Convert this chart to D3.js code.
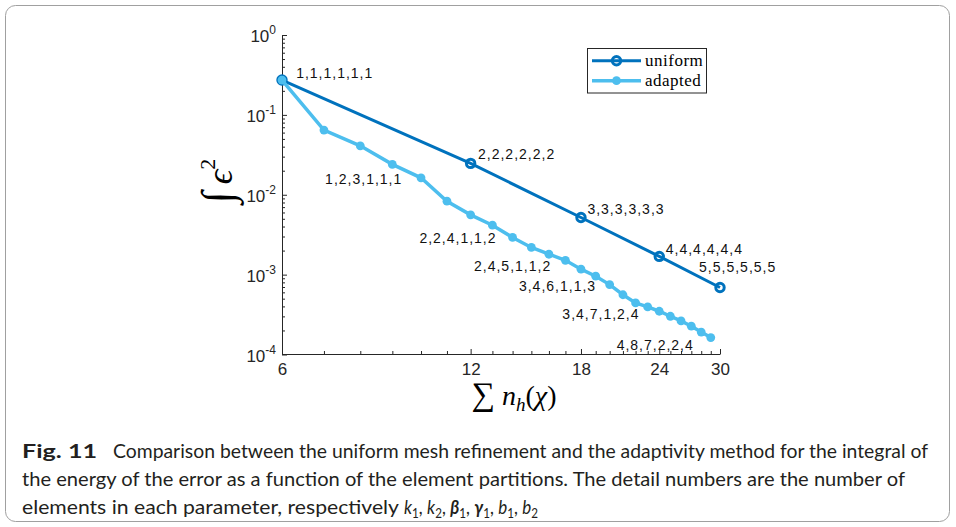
<!DOCTYPE html>
<html><head><meta charset="utf-8">
<script src="https://cdn.jsdelivr.net/npm/d3@7"></script>
<style>body{margin:0;background:#fff}</style>
</head><body><svg id="c" width="956" height="527"></svg>
<script>
// ---------- data ----------
const uniformX = [6, 12, 18, 24, 30];
const uniformY = [0.273, 0.0247, 0.00519, 0.00169, 0.00069];
const adaptedX = [6,7,8,9,10,11,12,13,14,15,16,17,18,19,20,21,22,23,24,25,26,27,28,29];
const adaptedY = [0.273,0.0645,0.041,0.024,0.0163,0.0083,0.0056,0.00416,0.00292,0.00219,0.0018,0.00151,0.00117,
                  0.000955,0.00075,0.00056,0.000442,0.000394,0.000348,0.000301,0.000263,0.000226,0.000191,0.000163];
const uniformLabels = ["1,1,1,1,1,1","2,2,2,2,2,2","3,3,3,3,3,3","4,4,4,4,4,4","5,5,5,5,5,5"];
const uniformLabelX = [6.32, 12.33, 18.43, 24.58, 27.78];
const uniformLabelY = [0.289, 0.0279, 0.00571, 0.0018, 0.00107];
const adaptedLabels = ["1,2,3,1,1,1","2,2,4,1,1,2","2,4,5,1,1,2","3,4,6,1,1,3","3,4,7,1,2,4","4,8,7,2,2,4"];
const adaptedLabelX = [7.03, 9.94, 12.15, 14.33, 16.81, 20.52];
const adaptedLabelY = [0.0136, 0.00251, 0.00112, 0.000628, 0.000276, 0.000113];
const xTicks = [6, 12, 18, 24, 30];
const xMinorTicks = [7,8,9,10,11,13,14,15,16,17,19,20,21,22,23,25,26,27,28,29];
const yTicks = [1, 0.1, 0.01, 0.001, 0.0001];
const yTickExp = ["0","-1","-2","-3","-4"];
const seriesNames = ["uniform", "adapted"];
const captionLines = [
  "Comparison between the uniform mesh refinement and the adaptivity method for the integral of",
  "the energy of the error as a function of the element partitions. The detail numbers are the number of",
  "elements in each parameter, respectively"
];

// ---------- drawing ----------
const svg = d3.select("#c");
svg.append("rect").attr("width",956).attr("height",527).attr("fill","#fff");
svg.append("rect").attr("x",5.5).attr("y",5.5).attr("width",944).attr("height",516).attr("rx",10)
  .attr("fill","none").attr("stroke","#a0a0a0").attr("stroke-width",1);

const cU = "#0072BD", cA = "#4DBEEE", axisColor = "#262626";
const x = d3.scaleLog().domain([6,30]).range([282,720]);
const y = d3.scaleLog().domain([1e-4,1]).range([354.5,35]);

// x axis
const gx = svg.append("g").attr("transform","translate(0,354)")
  .call(d3.axisBottom(x).tickValues(xTicks).tickFormat(d3.format("d")).tickSizeInner(-5).tickSizeOuter(0).tickPadding(9))
  .attr("font-family","Liberation Sans, Arial, sans-serif").attr("font-size",17);
svg.append("g").attr("transform","translate(0,354)")
  .call(d3.axisBottom(x).tickValues(xMinorTicks).tickFormat("").tickSizeInner(-3).tickSizeOuter(0))
  .call(g=>g.select(".domain").remove());
// y axis
const gy = svg.append("g").attr("transform","translate(282,0)")
  .call(d3.axisLeft(y).tickValues(yTicks).tickFormat("").tickSizeInner(-5).tickSizeOuter(0));
svg.append("g").attr("transform","translate(282,0)")
  .call(d3.axisLeft(y).tickValues(y.ticks().filter(v=>!yTicks.some(t=>Math.abs(t-v)/v<1e-6))).tickFormat("").tickSizeInner(-3).tickSizeOuter(0))
  .call(g=>g.select(".domain").remove());
svg.selectAll(".domain, .tick line").attr("stroke",axisColor);
gx.selectAll("text").attr("fill",axisColor);

yTicks.forEach((v,i)=>{
  const t = svg.append("text").attr("x",276).attr("y",y(v)+7).attr("text-anchor","end")
    .attr("font-family","Liberation Sans, Arial, sans-serif").attr("font-size",17).attr("fill",axisColor);
  t.append("tspan").text("10");
  t.append("tspan").attr("dy",-8).attr("font-size",12).text(yTickExp[i]);
});

// lines
const line = d3.line().x(d=>x(d[0])).y(d=>y(d[1]));
const uData = uniformX.map((v,i)=>[v,uniformY[i]]);
const aData = adaptedX.map((v,i)=>[v,adaptedY[i]]);
svg.append("path").datum(uData).attr("d",line).attr("fill","none").attr("stroke",cU).attr("stroke-width",3);
svg.selectAll(".um").data(uData).enter().append("circle")
  .attr("cx",d=>x(d[0])).attr("cy",d=>y(d[1])).attr("r",4.2)
  .attr("fill","none").attr("stroke",cU).attr("stroke-width",3);
svg.append("path").datum(aData).attr("d",line).attr("fill","none").attr("stroke",cA).attr("stroke-width",3.5);
svg.selectAll(".am").data(aData).enter().append("circle")
  .attr("cx",d=>x(d[0])).attr("cy",d=>y(d[1])).attr("r",4.4)
  .attr("fill",cA).attr("stroke","none");

// data labels
const lab = (txt,lx,ly)=>svg.append("text").attr("x",x(lx)).attr("y",y(ly))
  .attr("font-family","Liberation Sans, Arial, sans-serif").attr("font-size",14)
  .attr("letter-spacing",1).attr("fill","#111").text(txt);
uniformLabels.forEach((t,i)=>lab(t,uniformLabelX[i],uniformLabelY[i]));
adaptedLabels.forEach((t,i)=>lab(t,adaptedLabelX[i],adaptedLabelY[i]));

// legend
const lg = svg.append("g");
lg.append("rect").attr("x",587.5).attr("y",48.5).attr("width",119).attr("height",44.5)
  .attr("fill","#fff").attr("stroke",axisColor).attr("stroke-width",1);
[[cU,60.7],[cA,80.7]].forEach(([c,yy],i)=>{
  lg.append("line").attr("x1",592).attr("x2",641).attr("y1",yy).attr("y2",yy).attr("stroke",c).attr("stroke-width",i?3.5:3);
  if(i===0) lg.append("circle").attr("cx",616.5).attr("cy",yy).attr("r",4.2).attr("fill","none").attr("stroke",c).attr("stroke-width",3);
  else lg.append("circle").attr("cx",616.5).attr("cy",yy).attr("r",4.4).attr("fill",c);
  lg.append("text").attr("x",645).attr("y",yy+5).attr("font-family","Liberation Serif, serif").attr("font-size",17)
    .attr("letter-spacing",0.5).attr("fill","#000").text(seriesNames[i]);
});

// x label
const xl = svg.append("text").attr("x",514).attr("y",405).attr("text-anchor","middle")
  .attr("font-family","Liberation Serif, DejaVu Serif, serif").attr("font-size",28).attr("fill","#000");
xl.append("tspan").attr("font-size",33).text("\u2211");
xl.append("tspan").attr("dx",7).attr("font-style","italic").text("n");
xl.append("tspan").attr("dy",6).attr("font-size",19).attr("font-style","italic").text("h");
xl.append("tspan").attr("dy",-6).text("(");
xl.append("tspan").attr("font-style","italic").text("\u03C7");
xl.append("tspan").text(")");

// y label
const yl = svg.append("text").attr("transform","translate(232,181) rotate(-90)").attr("text-anchor","middle")
  .attr("font-family","Liberation Serif, DejaVu Serif, serif").attr("font-size",36).attr("fill","#000");
yl.append("tspan").attr("font-size",44).text("\u222B");
yl.append("tspan").attr("dx",7).attr("font-style","italic").text("\u03F5");
yl.append("tspan").attr("dy",-17).attr("font-size",22).text("2");

// caption
const capFont = "Lato, 'Open Sans', sans-serif", capColor = "#231f20";
svg.append("text").attr("x",22).attr("y",458).attr("font-family",capFont).attr("font-weight","bold")
  .attr("font-size",19).attr("fill",capColor).attr("textLength",75).attr("lengthAdjust","spacingAndGlyphs").text("Fig. 11");
svg.append("text").attr("x",113).attr("y",458).attr("font-family",capFont).attr("font-size",19).attr("fill",capColor)
  .attr("textLength",815).attr("lengthAdjust","spacingAndGlyphs").text(captionLines[0]);
svg.append("text").attr("x",22).attr("y",486).attr("font-family",capFont).attr("font-size",19).attr("fill",capColor)
  .attr("textLength",883).attr("lengthAdjust","spacingAndGlyphs").text(captionLines[1]);
svg.append("text").attr("x",22).attr("y",514).attr("font-family",capFont).attr("font-size",19).attr("fill",capColor)
  .attr("textLength",377).attr("lengthAdjust","spacingAndGlyphs").text(captionLines[2]);
const m = svg.append("text").attr("x",404).attr("y",514).attr("font-family",capFont).attr("font-size",19).attr("fill",capColor)
  .attr("textLength",134).attr("lengthAdjust","spacingAndGlyphs");
const syms = ["k","k","\u03B2","\u03B3","b","b"], subs = ["1","2","1","1","1","2"];
syms.forEach((s,i)=>{
  m.append("tspan").attr("font-style","italic").attr("font-weight", (s==="\u03B2"||s==="\u03B3")?"bold":"normal").text(s);
  m.append("tspan").attr("dy",4).attr("font-size",13).text(subs[i]);
  m.append("tspan").attr("dy",-4).text(i<5?", ":"");
});
</script></body></html>
